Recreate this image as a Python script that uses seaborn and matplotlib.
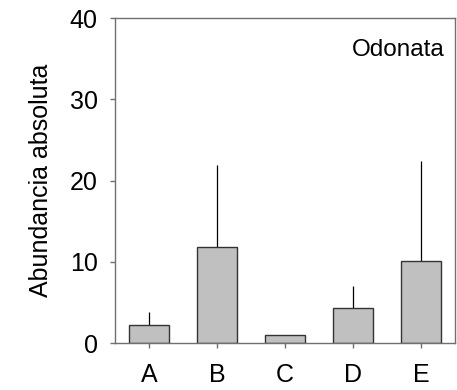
import matplotlib
matplotlib.use("Agg")
import matplotlib.pyplot as plt
import seaborn as sns
import numpy as np

categories = ["A", "B", "C", "D", "E"]
means = [2.2, 11.85, 1.0, 4.4, 10.1]
err_upper = [1.6, 10.05, 0.0, 2.6, 12.3]
yticks = [0, 10, 20, 30, 40]

sns.set_theme(style="ticks")
plt.rcParams['font.family'] = ['Liberation Sans', 'DejaVu Sans']
plt.rcParams['text.color'] = 'black'
plt.rcParams['axes.labelcolor'] = 'black'

fig = plt.figure(figsize=(4.57, 3.9), dpi=100)
ax = fig.add_axes([115/457, 1 - 343.3/390, 340/457, (343.3 - 18)/390])

sns.barplot(x=categories, y=means, color="#c0c0c0", edgecolor="#333333",
            linewidth=1.0, width=0.6, saturation=1, errorbar=None, ax=ax, zorder=2)
ax.errorbar(np.arange(len(categories)), means,
            yerr=[np.zeros(len(categories)), err_upper],
            fmt="none", ecolor="black", elinewidth=0.9, capsize=0, zorder=1)

ax.set_xlim(-0.5, 4.5)
ax.set_ylim(0, 40)
ax.set_yticks(yticks)
ax.set_ylabel("Abundancia absoluta", fontsize=18, labelpad=12, color="black")
ax.set_xlabel("")
for s in ax.spines.values():
    s.set_color("#707070")
    s.set_linewidth(1.0)
    s.set_visible(True)
ax.tick_params(axis="both", direction="out", length=3.5, width=1, color="#707070",
               labelsize=18, labelcolor="black", pad=9)
ax.tick_params(axis="x", pad=11)
ax.text(0.97, 0.935, "Odonata", transform=ax.transAxes, ha="right", va="top",
        fontsize=17.5, color="black")

fig.savefig("out.png", dpi=100)
